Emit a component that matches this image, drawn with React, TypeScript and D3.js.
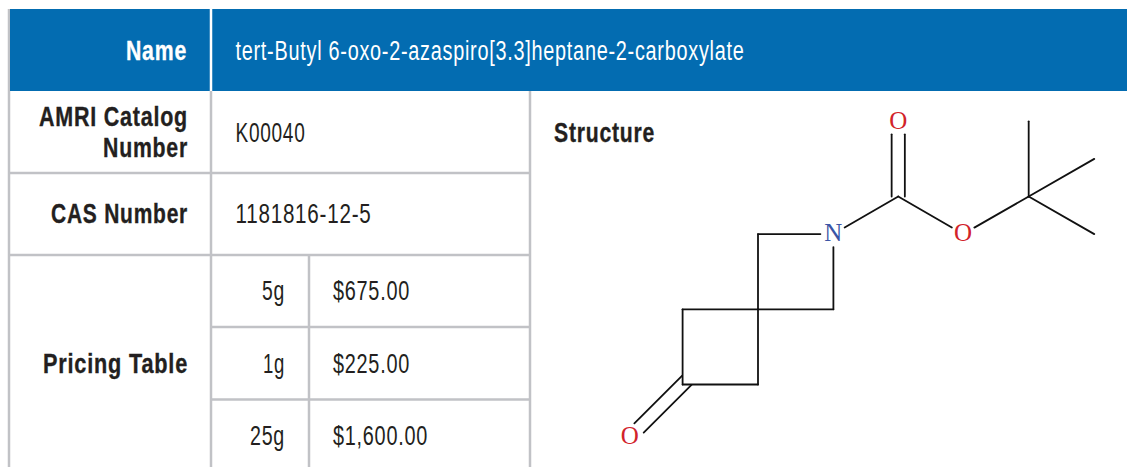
import React from "react";
import * as d3 from "d3";

// --- Table content ---
const headerLabel = "Name";
const compoundName = "tert-Butyl 6-oxo-2-azaspiro[3.3]heptane-2-carboxylate";
const catalogLabel = ["AMRI Catalog", "Number"];
const catalogValue = "K00040";
const casLabel = "CAS Number";
const casValue = "1181816-12-5";
const pricingLabel = "Pricing Table";
const structureLabel = "Structure";
const priceSizes = ["5g", "1g", "25g"];
const priceValues = ["$675.00", "$225.00", "$1,600.00"];

// --- Molecule, in bond lengths from the spiro carbon ---
const atoms = [
  { id: "Cs", x: 0, y: 0, label: "" },
  { id: "C1", x: 0, y: -1, label: "" },
  { id: "N", x: 1, y: -1, label: "N" },
  { id: "C2", x: 1, y: 0, label: "" },
  { id: "C3", x: -1, y: 0, label: "" },
  { id: "C4", x: -1, y: 1, label: "" },
  { id: "C5", x: 0, y: 1, label: "" },
  { id: "O1", x: -1.7, y: 1.7, label: "O" },
  { id: "C6", x: 1.86, y: -1.5, label: "" },
  { id: "O2", x: 1.86, y: -2.5, label: "O" },
  { id: "O3", x: 2.72, y: -1, label: "O" },
  { id: "C7", x: 3.59, y: -1.5, label: "" },
  { id: "C8", x: 3.59, y: -2.5, label: "" },
  { id: "C9", x: 4.46, y: -2, label: "" },
  { id: "C10", x: 4.46, y: -1, label: "" },
];

const singleBonds = [
  ["Cs", "C1"],
  ["C1", "N"],
  ["N", "C2"],
  ["C2", "Cs"],
  ["Cs", "C3"],
  ["C3", "C4"],
  ["C4", "C5"],
  ["C5", "Cs"],
  ["N", "C6"],
  ["C6", "O3"],
  ["O3", "C7"],
  ["C7", "C8"],
  ["C7", "C9"],
  ["C7", "C10"],
];
const doubleBonds = [
  ["C6", "O2"],
  ["C4", "O1"],
];

// --- Layout ---
const WIDTH = 1127;
const HEIGHT = 467;
const BLUE = "#036cb1";
const GRID = "#c1c2c6";
const INK = "#231f20";
const LABEL_RIGHT = 188;
const VALUE_LEFT = 235.5;
const SIZE_RIGHT = 285;
const PRICE_LEFT = 333;
const priceBaselines = [300, 372.5, 444.5];

// measured text widths, the reference uses a condensed face
const textWidths: Record<string, number> = {
  Name: 61,
  "AMRI Catalog": 149,
  Number: 85,
  "CAS Number": 137,
  "Pricing Table": 145,
  Structure: 101,
  [compoundName]: 509,
  K00040: 70,
  "1181816-12-5": 136,
  "5g": 23,
  "1g": 22,
  "25g": 35,
  "$675.00": 77,
  "$225.00": 77,
  "$1,600.00": 95,
};

const Label: React.FC<{
  x: number;
  y: number;
  text: string;
  bold?: boolean;
  end?: boolean;
  fill?: string;
}> = ({ x, y, text, bold, end, fill = INK }) => (
  <text
    x={x}
    y={y}
    fill={fill}
    stroke={bold ? fill : "none"}
    strokeWidth={bold ? 0.35 : 0}
    textAnchor={end ? "end" : "start"}
    textLength={textWidths[text]}
    lengthAdjust="spacingAndGlyphs"
    letterSpacing={1}
    fontFamily="'Liberation Sans Narrow', 'Liberation Sans', sans-serif"
    fontWeight={bold ? 700 : 400}
    fontSize={27}
  >
    {text}
  </text>
);

const App: React.FC = () => {
  const x = d3.scaleLinear().domain([0, 1]).range([758, 833.4]);
  const y = d3.scaleLinear().domain([0, 1]).range([309.3, 384.5]);
  const atomById = new Map(atoms.map((a) => [a.id, a]));

  // Pixel ends of a bond, pulled back from labelled atoms
  const bondEnds = (fromId: string, toId: string) => {
    const a = atomById.get(fromId)!;
    const b = atomById.get(toId)!;
    const [x1, y1, x2, y2] = [x(a.x), y(a.y), x(b.x), y(b.y)];
    const len = Math.hypot(x2 - x1, y2 - y1);
    const ux = (x2 - x1) / len;
    const uy = (y2 - y1) / len;
    const t1 = a.label ? 13 : 0;
    const t2 = b.label ? 13 : 0;
    return {
      x1: x1 + ux * t1,
      y1: y1 + uy * t1,
      x2: x2 - ux * t2,
      y2: y2 - uy * t2,
      ux,
      uy,
    };
  };

  return (
    <svg
      width={WIDTH}
      height={HEIGHT}
      viewBox={`0 0 ${WIDTH} ${HEIGHT}`}
      style={{ position: "absolute", left: 0, top: 0, background: "#fff" }}
    >
      {/* Grid */}
      <g stroke={GRID} strokeWidth={2.5}>
        <line x1={9} y1={9} x2={9} y2={HEIGHT} />
        <line x1={211} y1={91} x2={211} y2={HEIGHT} />
        <line x1={530} y1={91} x2={530} y2={HEIGHT} />
        <line x1={309} y1={255} x2={309} y2={HEIGHT} />
        <line x1={8} y1={173} x2={531} y2={173} />
        <line x1={8} y1={255} x2={531} y2={255} />
        <line x1={211} y1={327} x2={531} y2={327} />
        <line x1={211} y1={399.5} x2={531} y2={399.5} />
      </g>

      {/* Header band */}
      <rect x={10} y={9} width={WIDTH - 10} height={82} fill={BLUE} />
      <line x1={211} y1={9} x2={211} y2={91} stroke="#fff" strokeWidth={2.5} />
      <Label x={LABEL_RIGHT - 1} y={60} text={headerLabel} bold end fill="#fff" />
      <Label x={VALUE_LEFT} y={60} text={compoundName} fill="#fff" />

      {/* Rows */}
      <Label x={LABEL_RIGHT} y={126} text={catalogLabel[0]} bold end />
      <Label x={LABEL_RIGHT} y={157} text={catalogLabel[1]} bold end />
      <Label x={VALUE_LEFT} y={142} text={catalogValue} />
      <Label x={LABEL_RIGHT} y={223} text={casLabel} bold end />
      <Label x={VALUE_LEFT} y={223} text={casValue} />
      <Label x={LABEL_RIGHT} y={373} text={pricingLabel} bold end />
      {priceSizes.map((s, i) => (
        <Label key={s} x={SIZE_RIGHT} y={priceBaselines[i]} text={s} end />
      ))}
      {priceValues.map((p, i) => (
        <Label key={p} x={PRICE_LEFT} y={priceBaselines[i]} text={p} />
      ))}
      <Label x={554} y={142} text={structureLabel} bold />

      {/* Structure */}
      <g stroke="#111" strokeWidth={1.8} strokeLinecap="round">
        {singleBonds.map(([a, b]) => {
          const e = bondEnds(a, b);
          return <line key={a + b} x1={e.x1} y1={e.y1} x2={e.x2} y2={e.y2} />;
        })}
        {doubleBonds.map(([a, b]) => {
          const e = bondEnds(a, b);
          // the ring carbon's pair starts back on the ring edge
          const back = a === "C4" ? 6 : 0;
          return [-1, 1].map((side) => {
            const px = -e.uy * side * 6.6;
            const py = e.ux * side * 6.6;
            return (
              <line
                key={a + b + side}
                x1={e.x1 + px - e.ux * back}
                y1={e.y1 + py - e.uy * back}
                x2={e.x2 + px}
                y2={e.y2 + py}
              />
            );
          });
        })}
      </g>
      <g fontFamily="'Liberation Serif', serif" fontSize={25} textAnchor="middle">
        {atoms
          .filter((a) => a.label)
          .map((a) => (
            <text
              key={a.id}
              x={x(a.x)}
              y={y(a.y)}
              dy="0.29em"
              fill={a.label === "N" ? "#3b55a5" : "#d2232a"}
            >
              {a.label}
            </text>
          ))}
      </g>
    </svg>
  );
};

export default App;
